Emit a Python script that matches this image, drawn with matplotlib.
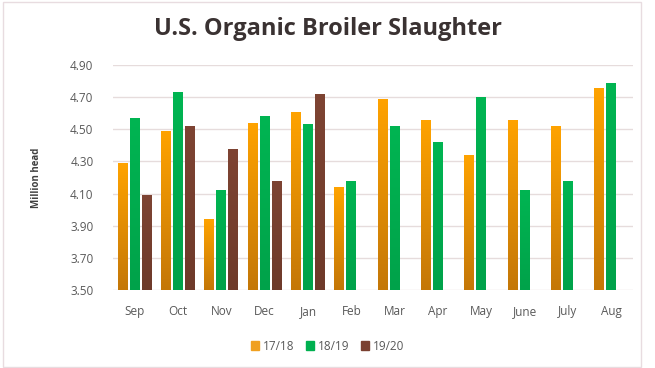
import numpy as np
import matplotlib.pyplot as plt
from matplotlib.patches import Rectangle
from matplotlib.colors import LinearSegmentedColormap

months = ["Sep", "Oct", "Nov", "Dec", "Jan", "Feb",
          "Mar", "Apr", "May", "June", "July", "Aug"]
s1718 = [4.29, 4.49, 3.94, 4.54, 4.61, 4.14, 4.69, 4.56, 4.34, 4.56, 4.52, 4.76]
s1819 = [4.57, 4.73, 4.12, 4.58, 4.53, 4.18, 4.52, 4.42, 4.70, 4.12, 4.18, 4.79]
s1920 = [4.09, 4.52, 4.38, 4.18, 4.72]
labels = ["17/18", "18/19", "19/20"]
BASE = 3.50

plt.rcParams['font.family'] = ['Open Sans', 'DejaVu Sans']

fig = plt.figure(figsize=(6.55, 3.68), dpi=100)
ax = fig.add_axes([113/655, 1 - 290/368, 520/655, 225/368])

x = np.arange(len(months))
w = 0.23
step = 0.275

grad_orange = LinearSegmentedColormap.from_list("og", ["#C47708", "#FFA300"])
grad_green = LinearSegmentedColormap.from_list("gg", ["#00A24A", "#00B552"])
grad_brown = LinearSegmentedColormap.from_list("bg", ["#6E3A2A", "#7E4433"])
gradient = np.linspace(0, 1, 256).reshape(-1, 1)


def grad_bars(xs, vals, cmap, color):
    bars = ax.bar(xs, np.array(vals) - BASE, w, bottom=BASE, color=color, zorder=2)
    for b in bars:
        x0, y0 = b.get_x(), b.get_y()
        im = ax.imshow(gradient, cmap=cmap, aspect='auto', origin='lower',
                       extent=[x0, x0 + b.get_width(), y0, y0 + b.get_height()],
                       zorder=3)
        im.set_clip_path(b)
    return bars


grad_bars(x[:len(s1718)] - step, s1718, grad_orange, "#F39C12")
grad_bars(x[:len(s1819)], s1819, grad_green, "#00B050")
grad_bars(x[:len(s1920)] + step, s1920, grad_brown, "#7A4030")

ax.set_xlim(-0.5, len(months) - 0.5)
ax.set_ylim(3.50, 4.90)
ax.set_yticks(np.arange(3.50, 4.91, 0.20))
ax.set_yticklabels([f"{v:.2f}" for v in np.arange(3.50, 4.91, 0.20)])
ax.set_xticks(x)
ax.set_xticklabels(months)
ax.tick_params(length=0, labelsize=8.5, colors="#595959")
ax.tick_params(axis='x', pad=11)
ax.tick_params(axis='y', pad=14)
ax.grid(axis='y', color="#E6DCDC", linewidth=1.0, zorder=0)
ax.set_axisbelow(True)
for s in ax.spines.values():
    s.set_visible(False)
ax.set_ylabel("Million head", fontsize=7, fontweight='bold', color="#404040", labelpad=20)

fig.text(0.5, 1 - 29/368, "U.S. Organic Broiler Slaughter", ha='center', va='center',
         fontsize=17, fontweight='bold', color="#3A3232")

handles = [Rectangle((0, 0), 1, 1, color=c) for c in ["#F0A020", "#00B050", "#7A4030"]]
fig.legend(handles, labels, loc='center', bbox_to_anchor=(0.5, 1 - 346/368), ncol=3,
           frameon=False, fontsize=8.5, labelcolor="#595959", handlelength=0.7,
           handleheight=0.7, handletextpad=0.3, columnspacing=1.0)

fig.patches.append(Rectangle((0.004, 0.004), 0.975, 0.99, transform=fig.transFigure,
                             fill=False, edgecolor="#E8DCE0", linewidth=1.0))

fig.savefig("out.png", dpi=100)
